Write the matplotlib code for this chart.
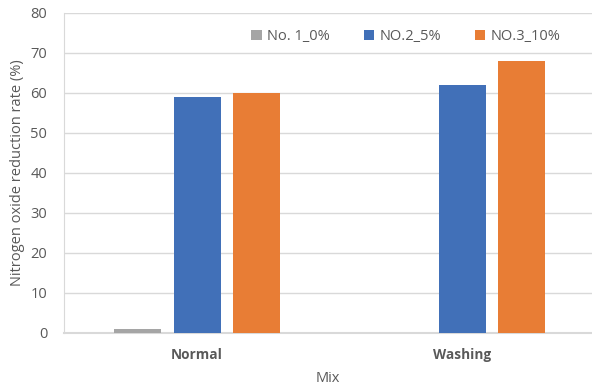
import matplotlib
matplotlib.use("Agg")
import matplotlib.pyplot as plt
import numpy as np

categories = ["Normal", "Washing"]
series_names = ["No. 1_0%", "NO.2_5%", "NO.3_10%"]
no1_values = [1, 0]
no2_values = [59, 62]
no3_values = [60, 68]
y_ticks = [0, 10, 20, 30, 40, 50, 60, 70, 80]

colors = ["#A5A5A5", "#4170B8", "#E87D35"]
text_color = "#595959"
grid_color = "#D9D9D9"

plt.rcParams["font.family"] = ["Open Sans", "DejaVu Sans"]

fig = plt.figure(figsize=(5.92, 3.89), dpi=100)
ax = fig.add_axes([64 / 592, 1 - 333 / 389, 1 - 64 / 592, 320 / 389])

x = np.arange(len(categories))
width = 0.177
step = 0.2245
for i, (vals, name, col) in enumerate(zip([no1_values, no2_values, no3_values], series_names, colors)):
    ax.bar(x + (i - 1) * step, vals, width, color=col, label=name, zorder=3)

ax.set_ylim(0, 80)
ax.set_xlim(-0.502, 1.49)
ax.set_yticks(y_ticks)
ax.set_xticks(x)
ax.set_xticklabels(categories, fontweight="bold", fontsize=9.8, color=text_color)
ax.tick_params(axis="y", labelsize=10.5, colors=text_color, length=0, pad=12)
ax.tick_params(axis="x", length=0, pad=11)
ax.yaxis.grid(True, color=grid_color, linewidth=1, zorder=0)
ax.set_axisbelow(True)

for side in ["top", "right"]:
    ax.spines[side].set_visible(False)
ax.spines["left"].set_color(grid_color)
ax.spines["bottom"].set_color(grid_color)
ax.spines["bottom"].set_linewidth(1.5)

ax.set_ylabel("Nitrogen oxide reduction rate (%)", fontsize=10.5, color=text_color, labelpad=4)
ax.set_xlabel("Mix", fontsize=10.5, color=text_color, labelpad=6)

leg = ax.legend(loc="upper center", bbox_to_anchor=(0.648, 0.99), ncol=3, frameon=False,
                fontsize=10.5, handlelength=0.7, handleheight=0.7, handletextpad=0.4,
                columnspacing=2.3)
for t in leg.get_texts():
    t.set_color(text_color)

fig.savefig("out.png", dpi=100)
